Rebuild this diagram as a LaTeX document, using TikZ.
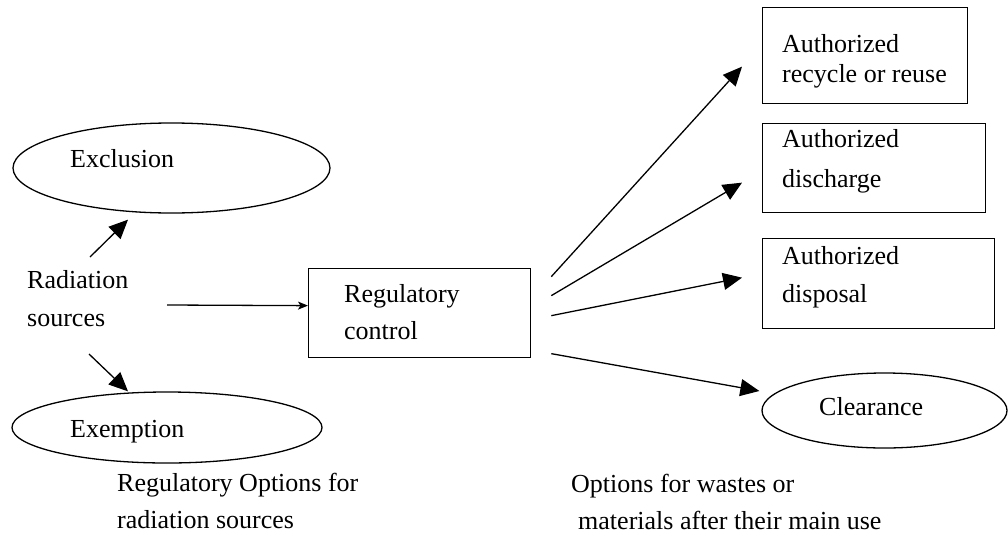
\documentclass[tikz,border=0pt]{standalone}
\usepackage{fontspec}
\setmainfont{Liberation Serif}
\usetikzlibrary{shapes.geometric,arrows.meta}

\newcommand{\txtsize}[1]{\fontsize{26}{#1}\selectfont}

\tikzset{
  box/.style={draw, rectangle, line width=1.3pt, inner sep=0pt, anchor=north west},
  oval/.style={draw, ellipse, line width=1.3pt, inner sep=0pt},
  txt/.style={inner sep=0pt, anchor=north west, align=left, font=\txtsize{38}},
  bigarrow/.style={line width=1.3pt, -{Triangle[length=19pt,width=17pt]}},
  smallarrow/.style={line width=1.3pt, -{Stealth[length=10pt,width=8pt,inset=2.5pt]}}
}

\begin{document}
\begin{tikzpicture}[x=1pt,y=-1pt]
\useasboundingbox (0,0) rectangle (1008,538);

% regulatory options
\node[oval, minimum width=317pt, minimum height=90pt] (excl) at (171.5,168) {};
\node[txt] (excltxt) at (70,149) {Exclusion};
\node[oval, minimum width=310pt, minimum height=71pt] (exem) at (167,427.5) {};
\node[txt] (exemtxt) at (70,420) {Exemption};
\node[txt] (rad) at (27,270) {Radiation\\sources};

\node[box, minimum width=222pt, minimum height=89pt] (reg) at (308,268) {};
\node[txt, font=\txtsize{37}] (regtxt) at (344,284) {Regulatory\\control};

% options after use
\node[box, minimum width=205pt, minimum height=96pt] (recy) at (762,7) {};
\node[txt, font=\txtsize{30}] (recytxt) at (782,34) {Authorized\\recycle or reuse};
\node[box, minimum width=223pt, minimum height=89pt] (disch) at (762,123) {};
\node[txt, font=\txtsize{40}] (dischtxt) at (782,129) {Authorized\\discharge};
\node[box, minimum width=232pt, minimum height=90pt] (disp) at (762,238) {};
\node[txt] (disptxt) at (782,246) {Authorized\\disposal};
\node[oval, minimum width=245pt, minimum height=75pt] (clear) at (884.5,410.5) {};
\node[txt] (cleartxt) at (819,397) {Clearance};

% captions
\node[txt, font=\txtsize{37}] (capleft) at (117,473) {Regulatory Options for\\radiation sources};
\node[txt, font=\txtsize{37}] (capright) at (571,474) {Options for wastes or\\\hspace*{7pt}materials after their main use};

% connectors
\draw[bigarrow] ([shift={(63,-13)}]rad.north west) -- ([shift={(-43.5,6)}]excl.south);
\draw[bigarrow] ([shift={(62,84)}]rad.north west) -- ([shift={(-39,0)}]exem.north);
\draw[smallarrow] ([shift={(140,35)}]rad.north west) -- ([shift={(0,-7.5)}]reg.west);

\draw[bigarrow] ([shift={(20,-36.5)}]reg.east) -- ([shift={(-20,11)}]recy.west);
\draw[bigarrow] ([shift={(20,-17.5)}]reg.east) -- ([shift={(-20,14.5)}]disch.west);
\draw[bigarrow] ([shift={(20,2.5)}]reg.east) -- ([shift={(-20,-6)}]disp.west);
\draw[bigarrow] ([shift={(20,40.5)}]reg.east) -- ([shift={(-2,-19.5)}]clear.west);
\end{tikzpicture}
\end{document}
